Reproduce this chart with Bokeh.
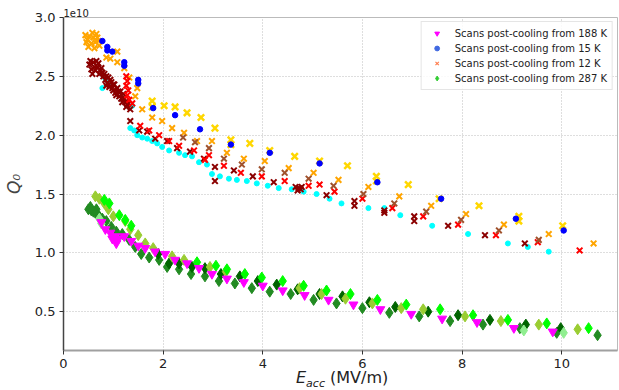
from bokeh.plotting import figure
from bokeh.layouts import column
from bokeh.models import (Range1d, Legend, LegendItem, Div,
                          FixedTicker, NumeralTickFormatter)
from bokeh.embed import file_html
from bokeh.resources import INLINE

FONT = "DejaVu Sans"

# ---------------- data (Eacc in MV/m, Q0 in units of 1e10) ----------------
x_ticks = [0, 2, 4, 6, 8, 10]
y_ticks = [0.5, 1.0, 1.5, 2.0, 2.5, 3.0]

legend_labels = ["Scans post-cooling from 188 K", "Scans post-cooling from 15 K",
                 "Scans post-cooling from 12 K", "Scans post-cooling from 287 K"]

# 12 K family (x markers)
orange_x = [0.44, 0.48, 0.52, 0.56, 0.60, 0.64, 0.66, 0.70, 0.72, 0.50, 0.58, 0.62, 0.46, 0.68,
            0.86, 0.94, 1.08, 1.08, 1.22, 1.32, 1.48, 1.44, 1.58, 1.78, 1.98, 2.18, 2.42, 2.68,
            2.98, 3.28, 3.62, 4.04, 4.52, 5.02, 5.52, 6.12, 6.74, 7.38, 8.08, 8.84, 9.74, 10.64]
orange_y = [2.85, 2.81, 2.84, 2.78, 2.83, 2.79, 2.86, 2.80, 2.76, 2.75, 2.87, 2.74, 2.79, 2.83,
            2.66, 2.65, 2.71, 2.62, 2.57, 2.49, 2.40, 2.33, 2.22, 2.15, 2.12, 2.06, 2.02, 1.95,
            1.95, 1.85, 1.80, 1.78, 1.72, 1.68, 1.62, 1.56, 1.48, 1.40, 1.33, 1.24, 1.16, 1.08]

gold_x = [1.78, 1.78, 2.02, 2.24, 2.48, 2.76, 3.04, 3.36, 3.36, 3.74, 4.14, 4.64, 5.14, 5.70,
          6.28, 6.28, 6.92, 7.54, 8.34, 9.14, 9.14, 10.02]
gold_y = [2.29, 2.24, 2.25, 2.24, 2.19, 2.15, 2.06, 1.96, 1.92, 1.93, 1.87, 1.82, 1.78, 1.74,
          1.65, 1.61, 1.58, 1.46, 1.40, 1.31, 1.27, 1.23]

darkred_x = [0.52, 0.56, 0.60, 0.64, 0.68, 0.72, 0.58, 0.76, 0.80, 0.66, 0.54, 0.62, 0.70, 0.74, 0.78,
             0.84, 0.88, 0.92, 0.96, 1.00, 1.04, 1.08, 1.12, 1.16, 1.20, 1.24, 1.28, 0.90, 1.00, 1.10,
             0.82, 0.86, 0.86, 0.94, 0.98, 1.02, 1.06, 1.14, 1.18, 1.22, 1.26, 1.30, 1.34,
             1.34, 1.52, 1.68, 1.84, 2.08, 2.28, 2.54, 2.82, 3.04, 3.04, 3.42, 3.80, 4.22,
             4.66, 4.72, 4.78, 4.70, 4.76, 5.28, 5.84, 5.84, 6.44, 6.44, 7.04, 7.04, 7.72, 8.46, 9.26]
darkred_y = [2.60, 2.56, 2.62, 2.55, 2.58, 2.52, 2.52, 2.57, 2.50, 2.63, 2.63, 2.58, 2.61, 2.55, 2.53,
             2.47, 2.44, 2.41, 2.45, 2.38, 2.36, 2.40, 2.33, 2.31, 2.35, 2.28, 2.26, 2.49, 2.43, 2.37,
             2.52, 2.50, 2.42, 2.47, 2.40, 2.43, 2.34, 2.37, 2.28, 2.31, 2.24, 2.27, 2.22,
             2.12, 2.04, 2.03, 1.97, 1.95, 1.89, 1.86, 1.80, 1.73, 1.61, 1.70, 1.65, 1.60,
             1.56, 1.55, 1.56, 1.53, 1.54, 1.49, 1.44, 1.40, 1.36, 1.34, 1.31, 1.27, 1.23, 1.15, 1.08]

red_x = [1.26, 1.28, 1.26, 1.30, 1.28, 1.32, 1.38, 1.54, 1.72, 1.92, 2.12, 2.32, 2.62, 2.92,
         2.84, 3.22, 3.56, 3.98, 4.44, 4.92, 5.14, 5.44, 6.00, 6.60, 7.22, 7.92, 8.68, 9.52, 10.36]
red_y = [2.50, 2.46, 2.42, 2.38, 2.34, 2.30, 2.27, 2.08, 2.04, 2.00, 1.95, 1.91, 1.87, 1.83,
         1.79, 1.74, 1.68, 1.65, 1.61, 1.57, 1.58, 1.52, 1.46, 1.38, 1.31, 1.24, 1.15, 1.09, 1.02]

sienna_x = [2.40, 2.64, 2.92, 3.22, 3.58, 3.98, 4.44, 4.92, 5.42, 6.02, 6.64, 7.28, 7.98, 8.74, 9.54]
sienna_y = [1.98, 1.94, 1.89, 1.80, 1.75, 1.71, 1.68, 1.63, 1.57, 1.50, 1.42, 1.35, 1.28, 1.19, 1.11]

# 15 K family (circles)
blue_x = [0.78, 0.88, 0.88, 0.98, 1.22, 1.22, 1.50, 1.50, 1.80, 2.24, 2.74, 3.36, 4.14, 5.14,
          6.30, 7.58, 9.08, 10.04]
blue_y = [2.80, 2.75, 2.72, 2.71, 2.62, 2.59, 2.47, 2.44, 2.23, 2.17, 2.05, 1.92, 1.85, 1.76,
          1.60, 1.46, 1.29, 1.19]

cyan_x = [0.78, 0.84, 0.90, 1.38, 1.34, 1.42, 1.48, 1.58, 1.68, 1.78, 1.88, 1.98, 2.12, 2.32,
          2.44, 2.58, 2.72, 2.88, 2.98, 3.14, 3.32, 3.48, 3.68, 3.88, 4.10, 4.32, 4.58, 4.82,
          5.08, 5.34, 5.58, 6.12, 6.44, 6.76, 7.40, 8.12, 8.92, 9.32, 9.74]
cyan_y = [2.40, 2.48, 2.43, 2.25, 2.06, 2.04, 2.00, 1.98, 1.97, 1.95, 1.93, 1.90, 1.87, 1.85,
          1.83, 1.82, 1.77, 1.75, 1.67, 1.65, 1.63, 1.62, 1.61, 1.59, 1.57, 1.55, 1.54, 1.52,
          1.50, 1.46, 1.42, 1.38, 1.38, 1.32, 1.23, 1.16, 1.08, 1.05, 1.01]

# 188 K (triangles)
magenta_x = [0.76, 0.84, 0.94, 0.98, 1.04, 1.06, 1.10, 1.22, 1.36, 1.50, 1.64, 1.84, 2.04, 2.24,
             2.48, 2.72, 2.98, 3.28, 3.62, 4.00, 4.40, 4.84, 5.32, 5.82, 6.36, 6.98, 7.60,
             8.30, 9.04, 9.82]
magenta_y = [1.26, 1.20, 1.17, 1.12, 1.14, 1.08, 1.12, 1.14, 1.10, 1.06, 1.04, 1.01, 0.99, 0.94,
             0.91, 0.87, 0.82, 0.78, 0.75, 0.72, 0.68, 0.64, 0.60, 0.56, 0.52, 0.48, 0.44,
             0.41, 0.36, 0.33]

# 287 K (diamonds)
yellowgreen_x = [0.64, 0.72, 0.82, 0.90, 1.00, 1.24, 1.34, 1.50, 1.64, 1.80, 2.18, 2.42, 2.94,
                 3.26, 4.74, 5.18, 5.66, 6.20, 6.78, 7.22, 8.06, 8.78, 9.54, 10.32]
yellowgreen_y = [1.48, 1.46, 1.42, 1.37, 1.31, 1.27, 1.20, 1.15, 1.08, 1.04, 0.97, 0.94, 0.88,
                 0.84, 0.70, 0.65, 0.61, 0.57, 0.53, 0.52, 0.46, 0.42, 0.39, 0.35]

lime_x = [0.82, 0.92, 1.12, 1.24, 1.36, 2.68, 3.06, 3.28, 3.64, 3.98, 4.40, 4.82, 5.28, 5.76,
          6.30, 6.88, 7.56, 8.22, 8.92, 9.70, 10.54]
lime_y = [1.45, 1.42, 1.32, 1.28, 1.23, 0.92, 0.89, 0.86, 0.82, 0.79, 0.76, 0.72, 0.68, 0.65,
          0.60, 0.56, 0.52, 0.47, 0.43, 0.40, 0.36]

forestgreen_x = [0.50, 0.54, 0.60, 0.66, 0.56, 0.64, 0.72, 0.78, 0.86, 0.96, 1.06, 1.18, 1.32,
                 1.44, 1.56, 1.72, 1.92, 2.08, 2.32, 2.56, 2.84, 3.12, 3.44, 3.78, 4.14, 4.56,
                 5.02, 5.48, 6.00, 6.54, 7.14, 7.76, 8.42, 9.16, 9.90, 10.72]
forestgreen_y = [1.37, 1.39, 1.35, 1.37, 1.36, 1.34, 1.31, 1.29, 1.27, 1.22, 1.18, 1.16, 1.11,
                 1.05, 0.99, 0.96, 0.94, 0.88, 0.86, 0.82, 0.80, 0.76, 0.74, 0.70, 0.67, 0.65,
                 0.60, 0.57, 0.53, 0.49, 0.46, 0.42, 0.39, 0.36, 0.32, 0.30]

darkgreen_x = [1.90, 2.12, 2.32, 2.58, 2.84, 3.16, 3.54, 3.90, 4.28, 4.70, 5.14, 5.60, 6.14,
               6.66, 7.32, 7.92, 8.56, 9.28, 9.98]
darkgreen_y = [0.99, 0.91, 0.91, 0.88, 0.87, 0.82, 0.80, 0.76, 0.73, 0.69, 0.65, 0.63, 0.58,
               0.54, 0.50, 0.47, 0.43, 0.39, 0.36]

lightgreen_x = [0.72, 0.76, 9.24, 10.04]
lightgreen_y = [1.29, 1.25, 0.34, 0.32]

# ---------------- figure ----------------
X0, X1 = 0.0, 11.12
Y0, Y1 = 0.17, 3.0

p = figure(width=619, height=370, output_backend="svg", toolbar_location=None,
           x_range=Range1d(X0, X1), y_range=Range1d(Y0, Y1),
           min_border_left=8, min_border_right=2, min_border_top=17, min_border_bottom=10)
p.background_fill_color = "white"
p.border_fill_color = "white"
p.outline_line_color = "#bbbbbb"
p.outline_line_width = 1

# offset text of the y axis, shown as a small left-aligned title above the frame
p.title.text = "1e10"
p.title.text_font = FONT
p.title.text_font_size = "10px"
p.title.text_font_style = "normal"
p.title.text_color = "#222222"
p.title.align = "left"
p.title.standoff = 1
p.title.offset = 0

for ax in (p.xaxis[0], p.yaxis[0]):
    ax.major_tick_out = 4
    ax.major_tick_in = 0
    ax.minor_tick_out = 0
    ax.minor_tick_in = 0
    ax.major_label_text_font = FONT
    ax.major_label_text_font_size = "13px"
    ax.major_label_text_color = "#222222"
    ax.major_tick_line_color = "#333333"

p.xaxis[0].ticker = FixedTicker(ticks=x_ticks)
p.xaxis[0].formatter = NumeralTickFormatter(format="0")
p.xaxis[0].axis_line_color = "#a0a0a0"
p.xaxis[0].axis_line_width = 2
p.xaxis[0].major_label_standoff = 4

p.yaxis[0].ticker = FixedTicker(ticks=y_ticks)
p.yaxis[0].formatter = NumeralTickFormatter(format="0.0")
p.yaxis[0].axis_line_color = "#444444"
p.yaxis[0].axis_line_width = 1.5
p.yaxis[0].major_label_standoff = 4
p.yaxis[0].axis_label = "Q\u2080"
p.yaxis[0].axis_label_text_font = FONT
p.yaxis[0].axis_label_text_font_style = "italic"
p.yaxis[0].axis_label_text_font_size = "17px"
p.yaxis[0].axis_label_standoff = 8

p.xgrid.ticker = FixedTicker(ticks=x_ticks)
p.ygrid.ticker = FixedTicker(ticks=y_ticks)
for g in (p.xgrid[0], p.ygrid[0]):
    g.grid_line_color = "#bdbdbd"
    g.grid_line_dash = "1 2"
    g.grid_line_width = 1

# ---------------- data glyphs ----------------
p.scatter(forestgreen_x, forestgreen_y, marker="diamond", size=11, fill_color="#228B22", line_color="#228B22")
p.scatter(darkgreen_x, darkgreen_y, marker="diamond", size=11, fill_color="#006400", line_color="#006400")
p.scatter(lightgreen_x, lightgreen_y, marker="diamond", size=11, fill_color="#90EE90", line_color="#90EE90")
p.scatter(yellowgreen_x, yellowgreen_y, marker="diamond", size=11, fill_color="#9ACD32", line_color="#9ACD32")
p.scatter(lime_x, lime_y, marker="diamond", size=11, fill_color="#00FF00", line_color="#00FF00")
p.scatter(magenta_x, magenta_y, marker="inverted_triangle", size=9, fill_color="#FF00FF", line_color="#FF00FF")

p.scatter(cyan_x, cyan_y, marker="circle", size=5, fill_color="#00FFFF", line_color="#00FFFF")
p.scatter(orange_x, orange_y, marker="x", size=8, line_color="#FFA500", line_width=2)
p.scatter(darkred_x, darkred_y, marker="x", size=8, line_color="#8B0000", line_width=2)
p.scatter(red_x, red_y, marker="x", size=8, line_color="#FF0000", line_width=2)
p.scatter(sienna_x, sienna_y, marker="x", size=8, line_color="#A0522D", line_width=2)
p.scatter(gold_x, gold_y, marker="x", size=9, line_color="#FFD700", line_width=2.5)
p.scatter(blue_x, blue_y, marker="circle", size=5.5, fill_color="#0000FF", line_color="#0000FF")

# ---------------- legend (proxy glyphs placed outside the visible ranges) ----------------
lg_188 = p.scatter([-5], [-5], marker="inverted_triangle", size=9, fill_color="#FF00FF", line_color="#FF00FF")
lg_15 = p.scatter([-5], [-5], marker="circle", size=7, fill_color="#4169E1", line_color="#4169E1")
lg_12 = p.scatter([-5], [-5], marker="x", size=7, line_color="#FF7F50", line_width=1.2)
lg_287 = p.scatter([-5], [-5], marker="diamond", size=11, fill_color="#32CD32", line_color="#32CD32")

legend = Legend(items=[LegendItem(label=legend_labels[0], renderers=[lg_188]),
                       LegendItem(label=legend_labels[1], renderers=[lg_15]),
                       LegendItem(label=legend_labels[2], renderers=[lg_12]),
                       LegendItem(label=legend_labels[3], renderers=[lg_287])],
                location="top_right")
legend.label_text_font = FONT
legend.label_text_font_size = "10px"
legend.label_text_color = "#222222"
legend.label_standoff = 8
legend.label_height = 12
legend.glyph_height = 12
legend.glyph_width = 20
legend.spacing = 3
legend.padding = 5
legend.margin = 4
legend.border_line_color = "#cccccc"
legend.background_fill_alpha = 0.85
p.add_layout(legend, "center")

# ---------------- x axis title (with subscript) ----------------
xlabel = Div(text="<i>E</i><sub style='font-size:11px'><i>acc</i></sub> (MV/m)",
             width=619, height=18, margin=(0, 0, 0, 0),
             styles={"font-family": FONT, "font-size": "16px", "color": "#222222",
                     "padding-left": "296px", "line-height": "16px", "white-space": "nowrap"})

layout = column(p, xlabel, spacing=0)
open("out.html", "w").write(file_html(layout, INLINE))
